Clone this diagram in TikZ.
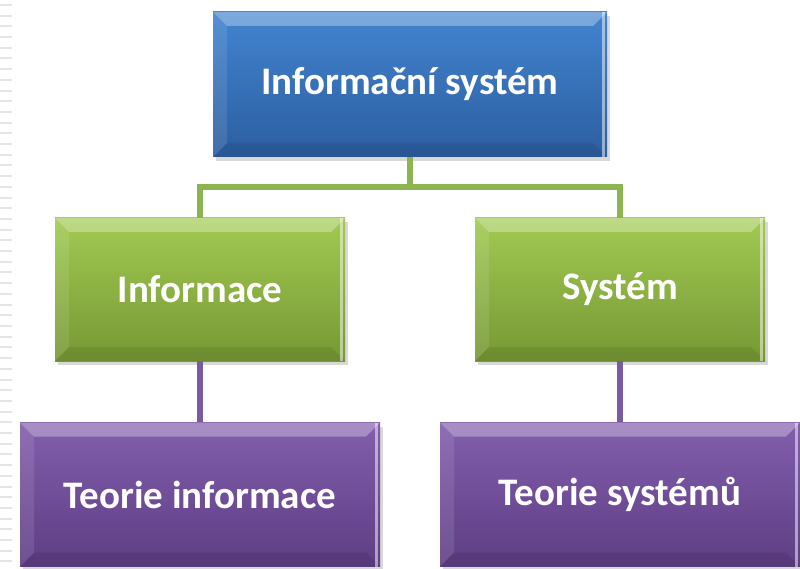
\documentclass[tikz,border=0pt]{standalone}
\usepackage{fontspec}
\setmainfont{Carlito}
\usetikzlibrary{trees,shadows}
\definecolor{blueA}{RGB}{66,132,208}
\definecolor{blueB}{RGB}{44,94,160}
\definecolor{greenA}{RGB}{162,202,82}
\definecolor{greenB}{RGB}{118,152,52}
\definecolor{purpleA}{RGB}{130,94,172}
\definecolor{purpleB}{RGB}{94,62,132}
\definecolor{greenline}{RGB}{140,180,80}
\definecolor{purpleline}{RGB}{122,90,160}
\tikzstyle{box}=[draw=none,text=white,inner sep=0pt,
  font=\bfseries\fontsize{39}{43}\selectfont,
  drop shadow={opacity=.3,shadow xshift=3pt,shadow yshift=-4pt},
  path picture={
    \fill[white,opacity=.3] (path picture bounding box.north west) -- (path picture bounding box.north east)
      -- ([shift={(-14pt,-14pt)}]path picture bounding box.north east) -- ([shift={(14pt,-14pt)}]path picture bounding box.north west) -- cycle;
    \fill[white,opacity=.1] (path picture bounding box.north west) -- ([shift={(14pt,-14pt)}]path picture bounding box.north west)
      -- ([shift={(14pt,14pt)}]path picture bounding box.south west) -- (path picture bounding box.south west) -- cycle;
    \fill[black,opacity=.08] (path picture bounding box.south west) -- (path picture bounding box.south east)
      -- ([shift={(-14pt,14pt)}]path picture bounding box.south east) -- ([shift={(14pt,14pt)}]path picture bounding box.south west) -- cycle;
    \fill[white,opacity=.5] ([xshift=-5pt]path picture bounding box.north east) rectangle ([xshift=-2pt]path picture bounding box.south east);
  }]
\tikzstyle{topbox}=[box,top color=blueA,bottom color=blueB,minimum width=394pt,minimum height=145pt]
\tikzstyle{midbox}=[box,top color=greenA,bottom color=greenB,minimum width=290pt,minimum height=143pt]
\tikzstyle{lowbox}=[box,top color=purpleA,bottom color=purpleB,minimum width=360pt,minimum height=144pt]

\begin{document}
\begin{tikzpicture}[x=1pt,y=-1pt,level distance=205pt,
  level 1/.style={sibling distance=420pt,
    edge from parent/.style={draw=greenline,line width=6pt},
    edge from parent path={(\tikzparentnode.south) -- ++(0,30) -| (\tikzchildnode.north)}},
  level 2/.style={edge from parent/.style={draw=purpleline,line width=5.5pt},
    edge from parent path={(\tikzparentnode.south) -- (\tikzchildnode.north)}}]
\useasboundingbox[fill=white] (0,0) rectangle (800,569);
% stripes at the left margin
\foreach \i in {0,...,52}
  \draw[gray!20,line width=2pt] (0,5+10.7*\i) -- (12,5+10.7*\i);
\node [topbox] (infsys) at (410,84.5) {Informační systém}
  child {node [midbox] (inf) {Informace}
    child {node [lowbox] (teoinf) {Teorie informace}}
  }
  child {node [midbox] (sys) {Systém}
    child {node [lowbox] (teosys) {Teorie systémů}}
  };
\end{tikzpicture}
\end{document}
